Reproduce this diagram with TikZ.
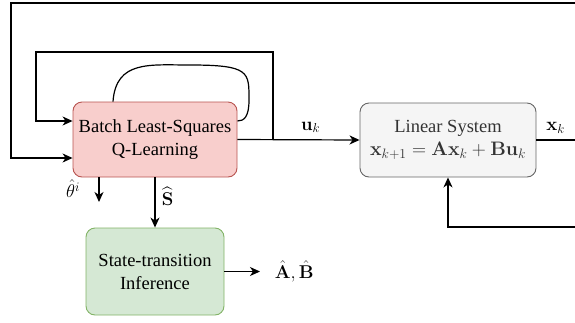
\RequirePackage{fix-cm}
\documentclass[tikz,border=0pt]{standalone}
\usepackage{amsmath,amssymb,bm}
\usepackage[no-math]{fontspec}
\setmainfont{Liberation Serif}
\usetikzlibrary{arrows.meta,positioning,calc}
\definecolor{qlfill}{HTML}{F8CECC}
\definecolor{qlline}{HTML}{B85450}
\definecolor{stfill}{HTML}{D5E8D4}
\definecolor{stline}{HTML}{82B366}
\definecolor{sysfill}{HTML}{F5F5F5}
\definecolor{sysline}{HTML}{666666}
\definecolor{systext}{HTML}{333333}
\tikzset{
  box/.style={rounded corners=9pt, align=center, line width=0.9pt,
    font=\fontsize{18.5}{23}\selectfont, inner sep=0pt},
  lbl/.style={font=\fontsize{18.5}{22}\selectfont},
  wire/.style={line width=1.2pt},
  arr/.style={-{Stealth[length=10pt,width=9pt,inset=3pt]}, line width=1.2pt},
}

\begin{document}
\begin{tikzpicture}[x=1pt, y=-1pt]
  \useasboundingbox (0,0) rectangle (575,322);
  \node[box, draw=qlline, fill=qlfill, minimum width=164pt, minimum height=75pt]
    (bls) at (155,139.5) {Batch Least-Squares\\Q-Learning};
  \node[box, draw=sysline, fill=sysfill, text=systext, minimum width=176pt, minimum height=74pt]
    (sys) at (448,140) {Linear System\\{\fontsize{19.5}{23}\selectfont$\mathbf{x}_{k+1} = \mathbf{A}\mathbf{x}_k + \mathbf{B}\mathbf{u}_k$}};
  \node[box, draw=stline, fill=stfill, minimum width=138pt, minimum height=87pt]
    (sti) at (155,271.5) {State-transition\\Inference};

  \coordinate (tap) at (273,140);
  \coordinate (ilr) at (273,52);
  \coordinate (ill) at (36,52);
  \coordinate (olr) at (575,3);
  \coordinate (oll) at (11,3);
  \coordinate (xout) at (575,140);
  \coordinate (fbin) at (575,227);
  \coordinate (th) at (99,202);
  \coordinate (ab) at (260,271.5);

  % control and state
  \draw[arr] (bls.east) -- (sys.west) node[lbl, pos=0.6, above=3pt] {$\mathbf{u}_k$};
  \draw[wire] (sys.east) -- (xout) node[lbl, midway, above=3pt] {$\mathbf{x}_k$};
  \draw[arr] (fbin) -| (sys.south);

  % loops back into the learner
  \draw[arr] (tap) -- (ilr) -- (ill) |- ([yshift=18.5pt]bls.west);
  \draw[arr] (olr) -- (oll) |- ([yshift=-18.5pt]bls.west);
  \draw[wire] ([xshift=-42pt]bls.north) .. controls (116,60) and (150,65) .. (190,65)
    .. controls (250,65) and (249,72) .. (249,100)
    .. controls (249,117) and (244,121) .. ([yshift=18.5pt]bls.east);

  % outputs of the learner
  \draw[arr] ([xshift=-56pt]bls.south) -- (th);
  \node[lbl] (thl) at (73,189) {$\hat{\theta}^i$};
  \draw[arr] (bls.south) -- (sti.north) node[lbl, pos=0.38, right=3pt] {$\widehat{\mathbf{S}}$};
  \draw[arr] (sti.east) -- (ab) node[lbl, right=11pt] {$\hat{\mathbf{A}}, \hat{\mathbf{B}}$};
\end{tikzpicture}
\end{document}
